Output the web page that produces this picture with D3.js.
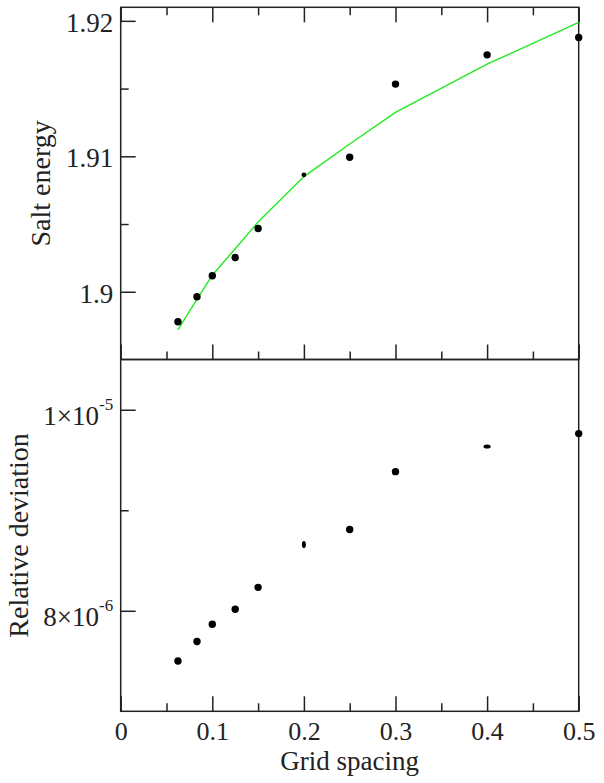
<!DOCTYPE html>
<html>
<head>
<meta charset="utf-8">
<script src="https://cdn.jsdelivr.net/npm/d3@7"></script>
<style>
  body { margin: 0; background: #fff; }
  svg { display: block; }
</style>
</head>
<body>
<div id="chart"></div>
<script>
// values
const gridSpacing = [0.0625, 0.0833, 0.1, 0.125, 0.15, 0.2, 0.25, 0.3, 0.4, 0.5];
const saltEnergy  = [1.89779, 1.89963, 1.90118, 1.90253, 1.90467, 1.90863, 1.90993, 1.91533, 1.91749, 1.91877];
const saltFit     = [1.89718, 1.89946, 1.90122, 1.90318, 1.90515, 1.9085, 1.91091, 1.91324, 1.9168, 1.91988];
const relDeviation = [7.501e-6, 7.694e-6, 7.866e-6, 8.016e-6, 8.233e-6, 8.659e-6, 8.808e-6, 9.384e-6, 9.634e-6, 9.763e-6];

const xTicks = [0, 0.1, 0.2, 0.3, 0.4, 0.5];
const xMinorTicks = [0.05, 0.15, 0.25, 0.35, 0.45];
const topTicks = [1.9, 1.91, 1.92];
const topMinorTicks = [1.905, 1.915];
const bottomTicks = [8e-6, 1e-5];
const bottomMinorTicks = [9e-6];
const bottomTickLabels = [["8\u00d710", "-6"], ["1\u00d710", "-5"]];

const width = 604, height = 783;
const plotLeft = 120.7, plotRight = 578.7, plotTop = 7.3, plotMid = 359.5, plotBottom = 711.3;
const font = "'Liberation Serif', 'Times New Roman', serif";
const ink = "#222";

// a few markers came out squashed in the original
const markerR = 3.7;
const oddMarkers = { top: { 5: [2.4, 2.4] }, bottom: { 5: [2, 3.6], 8: [3.6, 2] } };

const svg = d3.select("#chart").append("svg")
    .attr("width", width)
    .attr("height", height);

const x = d3.scaleLinear().domain([0, 0.5]).range([plotLeft, plotRight]);
const yTop = d3.scaleLinear().domain([1.895, 1.921]).range([plotMid, plotTop]);
const yBot = d3.scaleLinear().domain([7e-6, 1.05e-5]).range([plotBottom, plotMid]);

function styleAxis(g) {
    g.select(".domain").remove();
    g.selectAll("line").attr("stroke", ink).attr("stroke-width", 1.5);
    g.selectAll("text")
        .attr("font-family", font)
        .attr("font-size", 27)
        .attr("fill", ink);
}

function addAxis(axis, tx, ty) {
    return svg.append("g")
        .attr("transform", `translate(${tx},${ty})`)
        .call(axis)
        .call(styleAxis);
}

// frames
[[plotTop, plotMid], [plotMid, plotBottom]].forEach(([y0, y1]) => {
    svg.append("rect")
        .attr("x", plotLeft).attr("y", y0)
        .attr("width", plotRight - plotLeft).attr("height", y1 - y0)
        .attr("fill", "none")
        .attr("stroke", ink)
        .attr("stroke-width", 1.5);
});

// top panel axes
addAxis(d3.axisLeft(yTop).tickValues(topTicks).tickSize(-15).tickPadding(7.5)
    .tickFormat(d3.format(".2~f")), plotLeft, 0)
    .selectAll("text").attr("dy", 10.5);
addAxis(d3.axisLeft(yTop).tickValues(topMinorTicks).tickSize(-8).tickFormat(""), plotLeft, 0);
addAxis(d3.axisTop(x).tickValues(xTicks).tickSize(-15).tickFormat(""), 0, plotTop);
addAxis(d3.axisTop(x).tickValues(xMinorTicks).tickSize(-8).tickFormat(""), 0, plotTop);
addAxis(d3.axisBottom(x).tickValues(xTicks).tickSize(-15).tickFormat(""), 0, plotMid);
addAxis(d3.axisBottom(x).tickValues(xMinorTicks).tickSize(-8).tickFormat(""), 0, plotMid);

// bottom panel axes
const botY = addAxis(d3.axisLeft(yBot).tickValues(bottomTicks).tickSize(-15).tickPadding(7.5)
    .tickFormat(""), plotLeft, 0);
botY.selectAll("text").each(function(d, i) {
    const t = d3.select(this).attr("dy", 14.3).text(null);
    t.append("tspan").text(bottomTickLabels[i][0]);
    t.append("tspan").attr("font-size", 17).attr("dy", -14.3).text(bottomTickLabels[i][1]);
});
addAxis(d3.axisLeft(yBot).tickValues(bottomMinorTicks).tickSize(-8).tickFormat(""), plotLeft, 0);
addAxis(d3.axisBottom(x).tickValues(xTicks).tickSize(-15)
    .tickFormat(d => d === 0 ? "0" : d3.format(".1f")(d)), 0, plotBottom)
    .selectAll("text").attr("font-size", 26).attr("y", 0).attr("dy", 28.5);
addAxis(d3.axisBottom(x).tickValues(xMinorTicks).tickSize(-8).tickFormat(""), 0, plotBottom);

// titles
svg.append("text")
    .attr("x", (plotLeft + plotRight) / 2).attr("y", 770)
    .attr("text-anchor", "middle")
    .attr("font-family", font).attr("font-size", 27).attr("fill", ink)
    .text("Grid spacing");

svg.append("text")
    .attr("transform", `translate(49.5,${(plotTop + plotMid) / 2}) rotate(-90)`)
    .attr("text-anchor", "middle")
    .attr("font-family", font).attr("font-size", 28).attr("fill", ink)
    .text("Salt energy");

svg.append("text")
    .attr("transform", `translate(28,${(plotMid + plotBottom) / 2}) rotate(-90)`)
    .attr("text-anchor", "middle")
    .attr("font-family", font).attr("font-size", 28).attr("fill", ink)
    .text("Relative deviation");

// fit line
const fit = gridSpacing.map((g, i) => ({ x: g, y: saltFit[i] }));
svg.append("path")
    .datum(fit)
    .attr("fill", "none")
    .attr("stroke", "#22e822")
    .attr("stroke-width", 1.4)
    .attr("d", d3.line().x(d => x(d.x)).y(d => yTop(d.y)));

// points
function plotPoints(values, yScale, odd) {
    svg.append("g")
        .selectAll("ellipse")
        .data(values.map((v, i) => ({ x: gridSpacing[i], y: v, i })))
        .enter()
        .append("ellipse")
        .attr("cx", d => x(d.x))
        .attr("cy", d => yScale(d.y))
        .attr("rx", d => odd[d.i] ? odd[d.i][0] : markerR)
        .attr("ry", d => odd[d.i] ? odd[d.i][1] : markerR)
        .attr("fill", "#000");
}

plotPoints(saltEnergy, yTop, oddMarkers.top);
plotPoints(relDeviation, yBot, oddMarkers.bottom);
</script>
</body>
</html>
